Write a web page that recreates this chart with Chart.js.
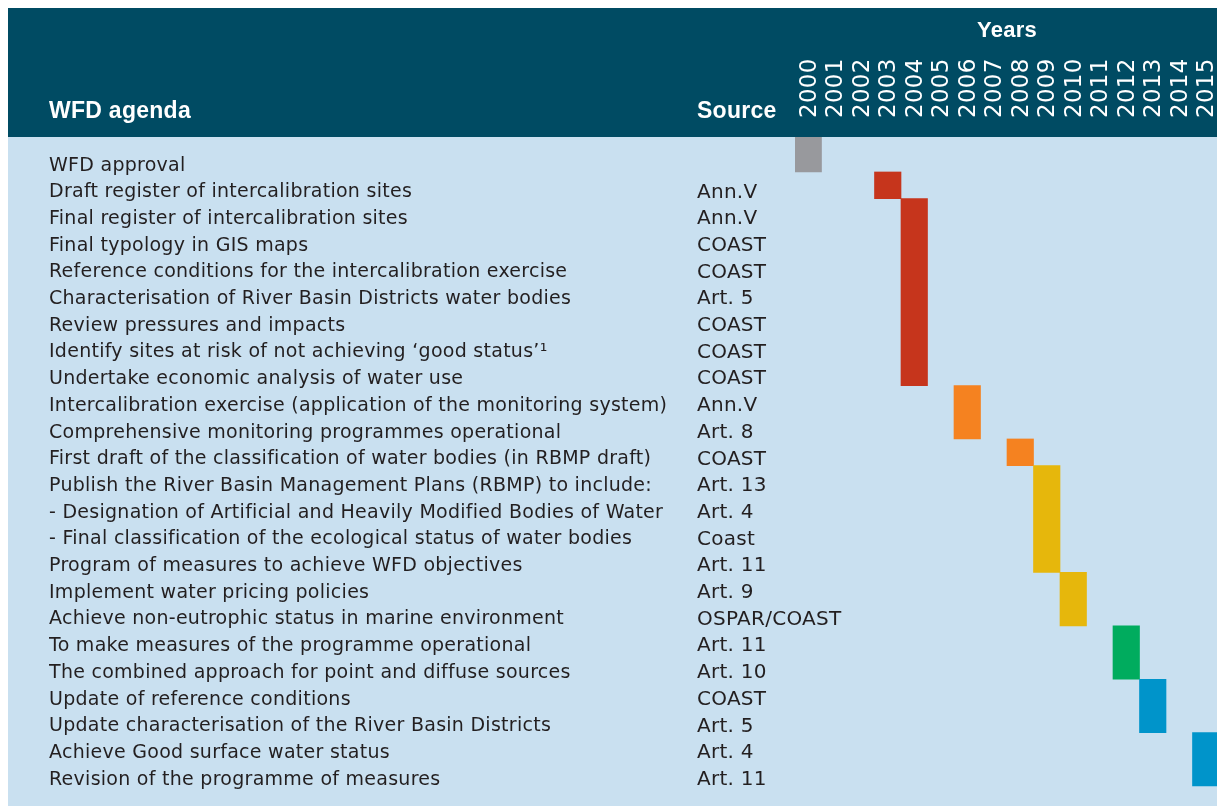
<!DOCTYPE html>
<html>
<head>
<meta charset="utf-8">
<script src="https://cdn.jsdelivr.net/npm/chart.js@4.4.1/dist/chart.umd.min.js"></script>
<style>
  html, body { margin: 0; padding: 0; background: #fff; overflow: hidden; }
  #wrap { position: absolute; left: 0; top: 0; }
</style>
</head>
<body>
<div id="wrap"><canvas id="chart" width="1225" height="807"></canvas></div>
<script>
const years = ['2000', '2001', '2002', '2003', '2004', '2005', '2006', '2007',
    '2008', '2009', '2010', '2011', '2012', '2013', '2014', '2015']

const agendaItems = [
    'WFD approval',
    'Draft register of intercalibration sites',
    'Final register of intercalibration sites',
    'Final typology in GIS maps',
    'Reference conditions for the intercalibration exercise',
    'Characterisation of River Basin Districts water bodies',
    'Review pressures and impacts',
    'Identify sites at risk of not achieving ‘good status’¹',
    'Undertake economic analysis of water use',
    'Intercalibration exercise (application of the monitoring system)',
    'Comprehensive monitoring programmes operational',
    'First draft of the classification of water bodies (in RBMP draft)',
    'Publish the River Basin Management Plans (RBMP) to include:',
    '- Designation of Artificial and Heavily Modified Bodies of Water',
    '- Final classification of the ecological status of water bodies',
    'Program of measures to achieve WFD objectives',
    'Implement water pricing policies',
    'Achieve non-eutrophic status in marine environment',
    'To make measures of the programme operational',
    'The combined approach for point and diffuse sources',
    'Update of reference conditions',
    'Update characterisation of the River Basin Districts',
    'Achieve Good surface water status',
    'Revision of the programme of measures'
]

const sources = ['', 'Ann.V', 'Ann.V', 'COAST', 'COAST', 'Art. 5', 'COAST', 'COAST', 'COAST',
    'Ann.V', 'Art. 8', 'COAST', 'Art. 13', 'Art. 4', 'Coast', 'Art. 11', 'Art. 9',
    'OSPAR/COAST', 'Art. 11', 'Art. 10', 'COAST', 'Art. 5', 'Art. 4', 'Art. 11']

// each block: the year it sits in and the first/last agenda row it covers
const blockYears = ['2000', '2003', '2004', '2006', '2008', '2009', '2010', '2012', '2013', '2015']
const blockFirstRow = [0, 1, 2, 9, 11, 12, 16, 18, 20, 22]
const blockLastRow = [0, 1, 8, 10, 11, 15, 17, 19, 21, 23]
const blockColors = ['#98999d', '#c6351c', '#c6351c', '#f58220', '#f58220',
    '#e6b70c', '#e6b70c', '#00ac5e', '#0094ca', '#0094ca']

const HEADER_BG = '#004b63'
const BODY_BG = '#c9e0f0'
const TEXT = '#231f20'
const Y_MIN = -0.81
const Y_MAX = 24.21
const YEAR_FONT = 23

const blocks = blockYears.map((year, i) => ({
    x: year,
    y: [blockFirstRow[i] === 0 ? Y_MIN : blockFirstRow[i] - 0.5, blockLastRow[i] + 0.5]
}))

const tableBg = {
    id: 'tableBg',
    beforeDraw(chart) {
        const ctx = chart.ctx
        const area = chart.chartArea
        ctx.letterSpacing = '0.27px'
        ctx.save()
        ctx.fillStyle = HEADER_BG
        ctx.fillRect(8, 8, chart.width - 8, area.top - 8)
        ctx.fillStyle = BODY_BG
        ctx.fillRect(8, area.top, chart.width - 8, 806 - area.top)
        ctx.fillStyle = '#fff'
        ctx.font = 'bold 23px "Liberation Sans"'
        ctx.textBaseline = 'alphabetic'
        ctx.textAlign = 'left'
        ctx.fillText('WFD agenda', chart.scales.y.left, 118)
        ctx.fillText('Source', chart.scales.ySrc.left, 118)
        ctx.restore()
    }
}

const rowTicks = scale => {
    scale.ticks = agendaItems.map((_, i) => ({value: i}))
}

const noPad = width => scale => {
    scale.width = width
    scale.paddingTop = 0
    scale.paddingBottom = 0
}

new Chart(document.getElementById('chart'), {
    type: 'bar',
    data: {
        labels: years,
        datasets: [{
            data: blocks,
            backgroundColor: blockColors,
            borderWidth: 0,
            barPercentage: 1,
            categoryPercentage: 1,
            grouped: false
        }]
    },
    options: {
        responsive: false,
        animation: false,
        layout: {padding: {left: 49, top: 8, right: 6, bottom: 2}},
        plugins: {legend: {display: false}, tooltip: {enabled: false}},
        scales: {
            x: {
                position: 'top',
                grid: {display: false, drawTicks: false},
                border: {display: false},
                ticks: {
                    color: '#fff',
                    font: {family: 'DejaVu Sans', size: YEAR_FONT},
                    minRotation: 90,
                    maxRotation: 90,
                    autoSkip: false,
                    padding: 19,
                    labelOffset: YEAR_FONT * 1.2 + 1.5
                },
                title: {
                    display: true,
                    text: 'Years',
                    color: '#fff',
                    font: {family: 'Liberation Sans', size: 22, weight: 'bold'},
                    padding: {top: 10, bottom: 0}
                },
                afterFit: s => {
                    s.height = 129
                    s.paddingLeft = 0
                    s.paddingRight = 0
                }
            },
            y: {
                type: 'linear',
                position: 'left',
                weight: 10,
                reverse: true,
                min: Y_MIN,
                max: Y_MAX,
                grid: {display: false, drawTicks: false},
                border: {display: false},
                afterBuildTicks: rowTicks,
                ticks: {
                    crossAlign: 'far',
                    padding: 0,
                    labelOffset: 7,
                    color: TEXT,
                    font: {family: 'DejaVu Sans', size: 19},
                    callback: v => agendaItems[v]
                },
                afterFit: noPad(648)
            },
            ySrc: {
                type: 'linear',
                position: 'left',
                weight: 0,
                reverse: true,
                min: Y_MIN,
                max: Y_MAX,
                grid: {display: false, drawTicks: false},
                border: {display: false},
                afterBuildTicks: rowTicks,
                ticks: {
                    mirror: true,
                    padding: -98,
                    labelOffset: 7,
                    color: TEXT,
                    font: {family: 'DejaVu Sans', size: 20},
                    callback: v => sources[v]
                },
                afterFit: noPad(98)
            }
        }
    },
    plugins: [tableBg]
})
</script>
</body>
</html>
